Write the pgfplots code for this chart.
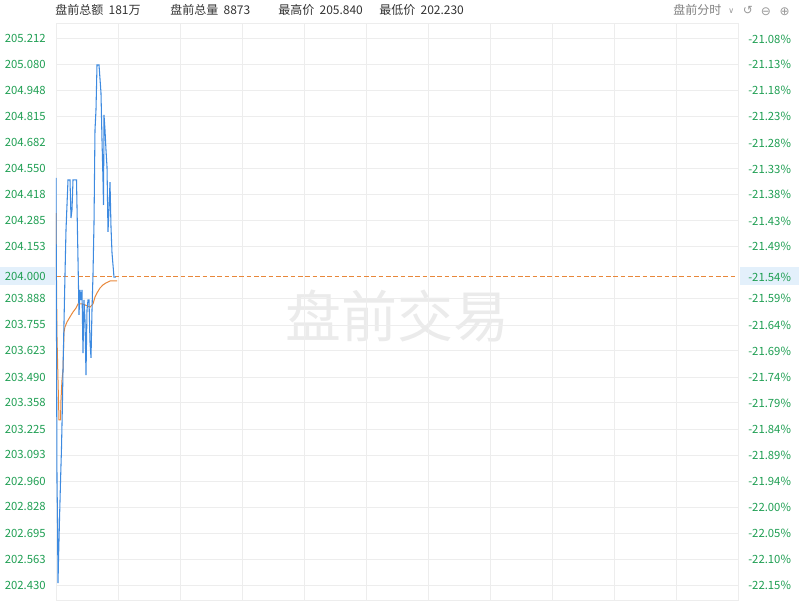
\documentclass[border=0pt]{standalone}
\usepackage{fontspec}
\usepackage{pgfplots}
\pgfplotsset{compat=1.18}
\setmainfont{Noto Sans CJK SC}
\newfontfamily\symfont{DejaVu Sans}

\definecolor{lineblue}{HTML}{3D8AE0}
\definecolor{lineorange}{HTML}{E8873A}
\definecolor{labgreen}{HTML}{1E9E52}
\definecolor{gridgray}{HTML}{EDEDED}
\definecolor{hlblue}{HTML}{E3F0FB}
\definecolor{headgray}{HTML}{333333}

% pre-market minute (from 04:00) vs price
\pgfplotstableread{
t      p
0.00   204.504
0.24   203.729
0.48   202.965
0.73   202.761
0.97   202.440
1.21   202.557
1.69   202.761
2.18   202.955
2.66   203.128
3.05   203.322
3.39   203.525
4.35   204.010
4.84   204.239
5.81   204.494
6.77   204.494
7.26   204.300
7.74   204.341
8.23   204.494
9.92   204.494
10.65  204.086
11.13  203.806
11.61  203.933
12.10  203.882
12.58  203.933
13.06  203.611
13.55  203.882
14.03  203.780
14.52  203.500
15.00  203.831
15.48  203.882
15.97  203.882
16.45  203.668
16.94  203.587
17.42  203.831
17.90  204.010
18.39  204.274
18.87  204.748
19.35  204.850
19.84  205.079
20.81  205.079
21.77  204.937
22.26  204.697
22.74  204.494
22.98  204.366
23.23  204.825
23.71  204.748
24.19  204.646
24.68  204.560
25.16  204.229
25.65  204.341
26.13  204.483
26.61  204.254
27.10  204.122
28.06  203.999
29.03  203.999
}\pricedata

\pgfplotstableread{
t      p
0.00   204.325
0.24   203.984
0.48   203.694
0.97   203.474
1.45   203.271
2.18   203.271
2.42   203.373
2.90   203.474
3.39   203.525
3.87   203.719
4.35   203.745
5.32   203.770
6.77   203.796
8.23   203.821
9.68   203.841
10.65  203.862
12.58  203.862
14.03  203.857
16.45  203.846
17.90  203.862
18.87  203.897
19.84  203.918
21.29  203.943
22.74  203.959
24.19  203.969
26.13  203.979
29.52  203.979
}\avgdata

\begin{document}
\begin{tikzpicture}
\useasboundingbox (0pt,0pt) rectangle (599.25pt,453pt);
% highlight behind the 204.000 labels
\fill[hlblue] (0pt,239.25pt) rectangle (41.25pt,252.75pt);
\fill[hlblue] (555pt,239.25pt) rectangle (599.25pt,252.75pt);
% watermark
\node[text=gray!16, font=\fontsize{42}{42}\selectfont] at (297.75pt,216pt) {盘前交易};

% header
\begin{scope}[every node/.style={anchor=base west, inner sep=0pt, text=headgray, font=\fontsize{9}{11}\selectfont}]
\node at (41.25pt,441.75pt) {盘前总额\hspace{4pt}181万};
\node at (127.5pt,441.75pt) {盘前总量\hspace{4pt}8873};
\node at (208.5pt,441.75pt) {最高价\hspace{4pt}205.840};
\node at (284.25pt,441.75pt) {最低价\hspace{4pt}202.230};
\node[text=gray] at (504.75pt,441.75pt) {盘前分时};
\node[text=gray!80, font=\symfont\fontsize{6}{8}\selectfont] at (546pt,442.5pt) {∨};
\node[text=gray!80, font=\symfont\fontsize{9}{11}\selectfont] at (557pt,441.75pt) {↺};
\node[text=gray!80, font=\symfont\fontsize{9}{11}\selectfont] at (570.5pt,441.5pt) {⊖};
\node[text=gray!80, font=\symfont\fontsize{9}{11}\selectfont] at (584.5pt,441.5pt) {⊕};
\end{scope}

\begin{axis}[
    at={(42pt,3pt)}, anchor=south west,
    scale only axis, width=511.5pt, height=432.75pt,
    xmin=0, xmax=330,
    ymin=202.354, ymax=205.293,
    xtick={0,30,...,330}, xticklabels={},
    ytick={202.430,202.563,202.695,202.828,202.960,203.093,203.225,203.358,203.490,203.623,203.755,203.888,204.153,204.285,204.418,204.550,204.682,204.815,204.948,205.080,205.212},
    yticklabels={202.430,202.563,202.695,202.828,202.960,203.093,203.225,203.358,203.490,203.623,203.755,203.888,204.153,204.285,204.418,204.550,204.682,204.815,204.948,205.080,205.212},
    extra y ticks={204},
    extra y tick labels={204.000},
    extra y tick style={grid=none},
    grid=major,
    major grid style={draw=gridgray, line width=0.6pt},
    major tick length=0pt,
    axis line style={draw=gridgray, line width=0.6pt},
    yticklabel style={text=labgreen, font=\fontsize{8.5}{10}\selectfont, inner sep=0pt, xshift=-7.5pt},
]
\addplot[color=lineorange, dash pattern=on 3.5pt off 2pt, line width=0.8pt] coordinates {(0,204) (330,204)};
\addplot[color=lineorange, line width=0.75pt] table[x=t, y=p] {\avgdata};
\addplot[color=lineblue, line width=0.8pt] table[x=t, y=p] {\pricedata};
\end{axis}

\begin{axis}[
    at={(42pt,3pt)}, anchor=south west,
    scale only axis, width=511.5pt, height=432.75pt,
    xmin=0, xmax=330,
    ymin=202.354, ymax=205.293,
    axis x line=none,
    axis y line*=right,
    axis line style={draw=none},
    major tick length=0pt,
    ytick={202.430,202.563,202.695,202.828,202.960,203.093,203.225,203.358,203.490,203.623,203.755,203.888,204.153,204.285,204.418,204.550,204.682,204.815,204.948,205.080,205.212},
    yticklabels={-22.15\%,-22.10\%,-22.05\%,-22.00\%,-21.94\%,-21.89\%,-21.84\%,-21.79\%,-21.74\%,-21.69\%,-21.64\%,-21.59\%,-21.49\%,-21.43\%,-21.38\%,-21.33\%,-21.28\%,-21.23\%,-21.18\%,-21.13\%,-21.08\%},
    extra y ticks={204},
    extra y tick labels={-21.54\%},
    yticklabel style={text=labgreen, font=\fontsize{8.5}{10}\selectfont, inner sep=0pt, xshift=7.5pt},
]
\end{axis}
\end{tikzpicture}
\end{document}
